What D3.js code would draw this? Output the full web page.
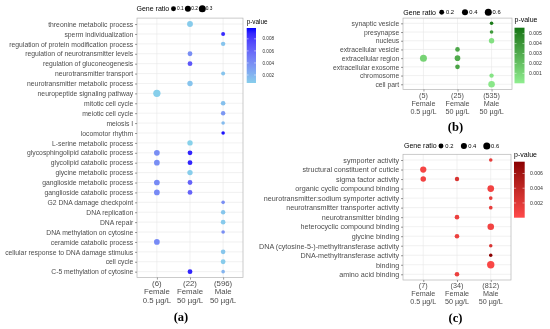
<!DOCTYPE html>
<html>
<head>
<meta charset="utf-8">
<script src="https://cdn.jsdelivr.net/npm/d3@7"></script>
<style>
  body { margin: 0; background: #fff; }
  svg { display: block; font-family: "Liberation Sans", Arial, sans-serif; will-change: transform; }
</style>
</head>
<body>
<svg id="chart"></svg>
<script>
let svgWidth = 550, svgHeight = 329

// groups on the x axis (same in all three panels apart from the gene counts)
let groupSex = ['Female', 'Female', 'Male']
let groupDose = ['0.5 µg/L', '50 µg/L', '50 µg/L']
let countsA = [6, 22, 596]
let countsB = [5, 25, 535]
let countsC = [7, 34, 812]

// (a) biological process
let termsA = ['threonine metabolic process', 'sperm individualization', 'regulation of protein modification process',
  'regulation of neurotransmitter levels', 'regulation of gluconeogenesis', 'neurotransmitter transport',
  'neurotransmitter metabolic process', 'neuropeptide signaling pathway', 'mitotic cell cycle', 'meiotic cell cycle',
  'meiosis I', 'locomotor rhythm', 'L-serine metabolic process', 'glycosphingolipid catabolic process',
  'glycolipid catabolic process', 'glycine metabolic process', 'ganglioside metabolic process',
  'ganglioside catabolic process', 'G2 DNA damage checkpoint', 'DNA replication', 'DNA repair',
  'DNA methylation on cytosine', 'ceramide catabolic process', 'cellular response to DNA damage stimulus',
  'cell cycle', 'C-5 methylation of cytosine']
// [term, group, gene ratio, p-value]
let dotsA = [
  ['threonine metabolic process', 1, 0.18, 0.0008],
  ['sperm individualization', 2, 0.03, 0.0088],
  ['regulation of protein modification process', 2, 0.06, 0.0012],
  ['regulation of neurotransmitter levels', 1, 0.09, 0.004],
  ['regulation of gluconeogenesis', 1, 0.09, 0.0068],
  ['neurotransmitter transport', 2, 0.03, 0.0012],
  ['neurotransmitter metabolic process', 1, 0.136, 0.0012],
  ['neuropeptide signaling pathway', 0, 0.333, 0.0006],
  ['mitotic cell cycle', 2, 0.075, 0.0014],
  ['meiotic cell cycle', 2, 0.06, 0.0035],
  ['meiosis I', 2, 0.005, 0.0016],
  ['locomotor rhythm', 2, 0.005, 0.0095],
  ['L-serine metabolic process', 1, 0.136, 0.0005],
  ['glycosphingolipid catabolic process', 0, 0.167, 0.004],
  ['glycosphingolipid catabolic process', 1, 0.09, 0.009],
  ['glycolipid catabolic process', 0, 0.167, 0.004],
  ['glycolipid catabolic process', 1, 0.09, 0.009],
  ['glycine metabolic process', 1, 0.136, 0.0007],
  ['ganglioside metabolic process', 0, 0.167, 0.0042],
  ['ganglioside metabolic process', 1, 0.09, 0.0062],
  ['ganglioside catabolic process', 0, 0.167, 0.0042],
  ['ganglioside catabolic process', 1, 0.09, 0.0062],
  ['G2 DNA damage checkpoint', 2, 0.008, 0.004],
  ['DNA replication', 2, 0.06, 0.0011],
  ['DNA repair', 2, 0.08, 0.0009],
  ['DNA methylation on cytosine', 2, 0.008, 0.004],
  ['ceramide catabolic process', 0, 0.167, 0.0042],
  ['cellular response to DNA damage stimulus', 2, 0.075, 0.0011],
  ['cell cycle', 2, 0.09, 0.0008],
  ['C-5 methylation of cytosine', 1, 0.09, 0.009],
  ['C-5 methylation of cytosine', 2, 0.008, 0.002]
]
let sizeTicksA = [0.1, 0.2, 0.3]
let pTicksA = [0.002, 0.004, 0.006, 0.008]

// (b) cellular component
let termsB = ['synaptic vesicle', 'presynapse', 'nucleus', 'extracellular vesicle', 'extracellular region',
  'extracellular exosome', 'chromosome', 'cell part']
let dotsB = [
  ['synaptic vesicle', 2, 0.02, 0.0053],
  ['presynapse', 2, 0.03, 0.0038],
  ['nucleus', 2, 0.28, 0.0006],
  ['extracellular vesicle', 1, 0.16, 0.0032],
  ['extracellular region', 0, 0.6, 0.0012],
  ['extracellular region', 1, 0.32, 0.003],
  ['extracellular exosome', 1, 0.16, 0.0034],
  ['chromosome', 2, 0.12, 0.0005],
  ['cell part', 2, 0.5, 0.0003]
]
let sizeTicksB = [0.2, 0.4, 0.6]
let pTicksB = [0.001, 0.002, 0.003, 0.004, 0.005]

// (c) molecular function
let termsC = ['symporter activity', 'structural constituent of cuticle', 'sigma factor activity',
  'organic cyclic compound binding', 'neurotransmitter:sodium symporter activity',
  'neurotransmitter transporter activity', 'neurotransmitter binding', 'heterocyclic compound binding',
  'glycine binding', 'DNA (cytosine-5-)-methyltransferase activity', 'DNA-methyltransferase activity',
  'binding', 'amino acid binding']
let dotsC = [
  ['symporter activity', 2, 0.02, 0.0015],
  ['structural constituent of cuticle', 0, 0.43, 0.0006],
  ['sigma factor activity', 0, 0.29, 0.0008],
  ['sigma factor activity', 1, 0.12, 0.0025],
  ['organic cyclic compound binding', 2, 0.52, 0.0008],
  ['neurotransmitter:sodium symporter activity', 2, 0.03, 0.0015],
  ['neurotransmitter transporter activity', 2, 0.03, 0.0015],
  ['neurotransmitter binding', 1, 0.15, 0.0012],
  ['heterocyclic compound binding', 2, 0.5, 0.0008],
  ['glycine binding', 1, 0.15, 0.0012],
  ['DNA (cytosine-5-)-methyltransferase activity', 2, 0.01, 0.0025],
  ['DNA-methyltransferase activity', 2, 0.01, 0.0075],
  ['binding', 2, 0.68, 0.0004],
  ['amino acid binding', 1, 0.15, 0.0012]
]
let sizeTicksC = [0.2, 0.4, 0.6]
let pTicksC = [0.002, 0.004, 0.006]

let svg = d3.select('#chart').attr('width', svgWidth).attr('height', svgHeight)
svg.append('rect').attr('width', svgWidth).attr('height', svgHeight).attr('fill', '#fff')
let defs = svg.append('defs')

function drawPanel(o) {
  let g = svg.append('g')
  let x = d3.scalePoint().domain([0, 1, 2]).range([o.left, o.right]).padding(0.6)
  let y = d3.scalePoint().domain(o.terms).range([o.top, o.bottom]).padding(0.6)
  let area = d3.scaleLinear().domain(o.sizeDomain).range(o.areaRange)
  let size = v => Math.sqrt(area(v))
  let color = d3.scaleLinear().domain(o.pDomain).range([o.low, o.high]).interpolate(d3.interpolateLab)

  // panel + grid
  g.append('rect').attr('x', o.left).attr('y', o.top)
    .attr('width', o.right - o.left).attr('height', o.bottom - o.top).attr('fill', '#fff')
  g.selectAll('.hgrid').data(o.terms).enter().append('line')
    .attr('x1', o.left).attr('x2', o.right).attr('y1', d => y(d)).attr('y2', d => y(d))
    .attr('stroke', '#e8e8e8').attr('stroke-width', 0.6)
  g.selectAll('.vgrid').data(x.domain()).enter().append('line')
    .attr('y1', o.top).attr('y2', o.bottom).attr('x1', d => x(d)).attr('x2', d => x(d))
    .attr('stroke', '#e8e8e8').attr('stroke-width', 0.6)

  // dots
  g.selectAll('circle.dot').data(o.dots).enter().append('circle')
    .attr('class', 'dot')
    .attr('cx', d => x(d[1])).attr('cy', d => y(d[0]))
    .attr('r', d => size(d[2]))
    .attr('fill', d => color(d[3]))

  g.append('rect').attr('x', o.left).attr('y', o.top)
    .attr('width', o.right - o.left).attr('height', o.bottom - o.top)
    .attr('fill', 'none').attr('stroke', '#b5b5b5').attr('stroke-width', 0.7)

  // y axis
  let ya = g.append('g').attr('transform', `translate(${o.left},0)`)
    .call(d3.axisLeft(y).tickSize(2).tickPadding(1.8))
  ya.select('.domain').remove()
  ya.selectAll('line').attr('stroke', '#333').attr('stroke-width', 0.5)
  ya.selectAll('text').attr('fill', '#4d4d4d').style('font-size', o.yFont + 'px')
    .style('font-family', '"Liberation Sans", Arial, sans-serif')

  // x axis with three-line labels
  let xa = g.append('g').attr('transform', `translate(0,${o.bottom})`)
    .call(d3.axisBottom(x).tickSize(2).tickFormat(''))
  xa.select('.domain').remove()
  xa.selectAll('line').attr('stroke', '#333').attr('stroke-width', 0.5)
  let xl = g.selectAll('.xlab').data(x.domain()).enter().append('text')
    .attr('text-anchor', 'middle').attr('fill', '#4d4d4d').style('font-size', o.xFont + 'px')
  xl.append('tspan').attr('x', d => x(d)).attr('y', o.bottom + o.xOff).text(d => `(${o.counts[d]})`)
  xl.append('tspan').attr('x', d => x(d)).attr('y', o.bottom + o.xOff + o.xLine).text(d => groupSex[d])
  xl.append('tspan').attr('x', d => x(d)).attr('y', o.bottom + o.xOff + 2 * o.xLine).text(d => groupDose[d])

  // size legend
  let sl = o.sizeLeg
  g.append('text').attr('x', sl.x).attr('y', sl.y).attr('dy', '0.35em')
    .style('font-size', '7px').attr('fill', '#000').text('Gene ratio')
  sl.ticks.forEach((t, i) => {
    let cx = sl.key0 + i * sl.step
    g.append('circle').attr('cx', cx).attr('cy', sl.y).attr('r', size(t)).attr('fill', '#000')
    g.append('text').attr('x', cx + sl.labOff).attr('y', sl.y).attr('dy', '0.35em')
      .style('font-size', sl.font + 'px').attr('fill', '#000').text(t.toFixed(1))
  })

  // colour bar
  let cb = o.colorLeg
  g.append('text').attr('x', cb.x).attr('y', cb.titleY).attr('dy', '0.35em')
    .style('font-size', cb.titleFont + 'px').attr('fill', '#000').text('p-value')
  let gradId = 'grad' + o.id
  let grad = defs.append('linearGradient').attr('id', gradId)
    .attr('x1', 0).attr('x2', 0).attr('y1', 1).attr('y2', 0)
  d3.range(0, 1.0001, 0.1).forEach(f => {
    grad.append('stop').attr('offset', f)
      .attr('stop-color', color(o.pDomain[0] + f * (o.pDomain[1] - o.pDomain[0])))
  })
  let by = d3.scaleLinear().domain(o.pDomain).range([cb.y1, cb.y0])
  g.append('rect').attr('x', cb.x).attr('y', cb.y0).attr('width', cb.w).attr('height', cb.y1 - cb.y0)
    .attr('fill', `url(#${gradId})`)
  cb.ticks.forEach(t => {
    g.append('line').attr('x1', cb.x).attr('x2', cb.x + cb.w / 5).attr('y1', by(t)).attr('y2', by(t))
      .attr('stroke', '#fff').attr('stroke-width', 0.5)
    g.append('line').attr('x1', cb.x + cb.w * 0.8).attr('x2', cb.x + cb.w).attr('y1', by(t)).attr('y2', by(t))
      .attr('stroke', '#fff').attr('stroke-width', 0.5)
    g.append('text').attr('x', cb.labX).attr('y', by(t)).attr('dy', '0.35em')
      .style('font-size', cb.font + 'px').attr('fill', '#333').text(t.toFixed(3))
  })

  // panel letter
  g.append('text').attr('x', o.letterX).attr('y', o.letterY).attr('text-anchor', 'middle')
    .style('font-family', '"Liberation Serif", "DejaVu Serif", serif').style('font-weight', 'bold')
    .style('font-size', '12.5px').attr('fill', '#000').text(o.letter)
}

drawPanel({
  id: 'a', terms: termsA, dots: dotsA, counts: countsA,
  left: 137, right: 243, top: 18.1, bottom: 277.6,
  sizeDomain: [0, 0.3], areaRange: [3.0, 12.25],
  pDomain: [0.00067, 0.0098], low: '#87CEEB', high: '#0000FF',
  yFont: 6.8, xFont: 7.8, xOff: 7.9, xLine: 8.7,
  sizeLeg: { x: 136.5, y: 8.7, key0: 173.5, step: 14.4, labOff: 3.4, font: 4.8, ticks: sizeTicksA },
  colorLeg: { x: 246.7, titleY: 22, titleFont: 6.4, y0: 28, y1: 83, w: 9.3, labX: 262.5, font: 4.6, ticks: pTicksA },
  letter: '(a)', letterX: 181, letterY: 320.5
})

drawPanel({
  id: 'b', terms: termsB, dots: dotsB, counts: countsB,
  left: 403, right: 512, top: 18.1, bottom: 89.5,
  sizeDomain: [0, 0.6], areaRange: [2.9, 12.25],
  pDomain: [0, 0.0056], low: '#90EE90', high: '#127512',
  yFont: 6.8, xFont: 7.2, xOff: 8, xLine: 8,
  sizeLeg: { x: 403.3, y: 12.3, key0: 441.7, step: 23.3, labOff: 4.3, font: 5.8, ticks: sizeTicksB },
  colorLeg: { x: 514.5, titleY: 20, titleFont: 7, y0: 27.7, y1: 83.3, w: 10, labX: 529, font: 5.1, ticks: pTicksB },
  letter: '(b)', letterX: 455.5, letterY: 130.5
})

drawPanel({
  id: 'c', terms: termsC, dots: dotsC, counts: countsC,
  left: 403, right: 511, top: 154.3, bottom: 280,
  sizeDomain: [0, 0.7], areaRange: [2.9, 14],
  pDomain: [0, 0.0076], low: '#FF4A4A', high: '#8B0000',
  yFont: 7.2, xFont: 7.2, xOff: 8.3, xLine: 7.7,
  sizeLeg: { x: 404, y: 146, key0: 441, step: 22.9, labOff: 4.3, font: 5.8, ticks: sizeTicksC },
  colorLeg: { x: 514, titleY: 155, titleFont: 7, y0: 161.7, y1: 217.7, w: 10.7, labX: 530, font: 5.2, ticks: pTicksC },
  letter: '(c)', letterX: 455.5, letterY: 321.5
})
</script>
</body>
</html>
